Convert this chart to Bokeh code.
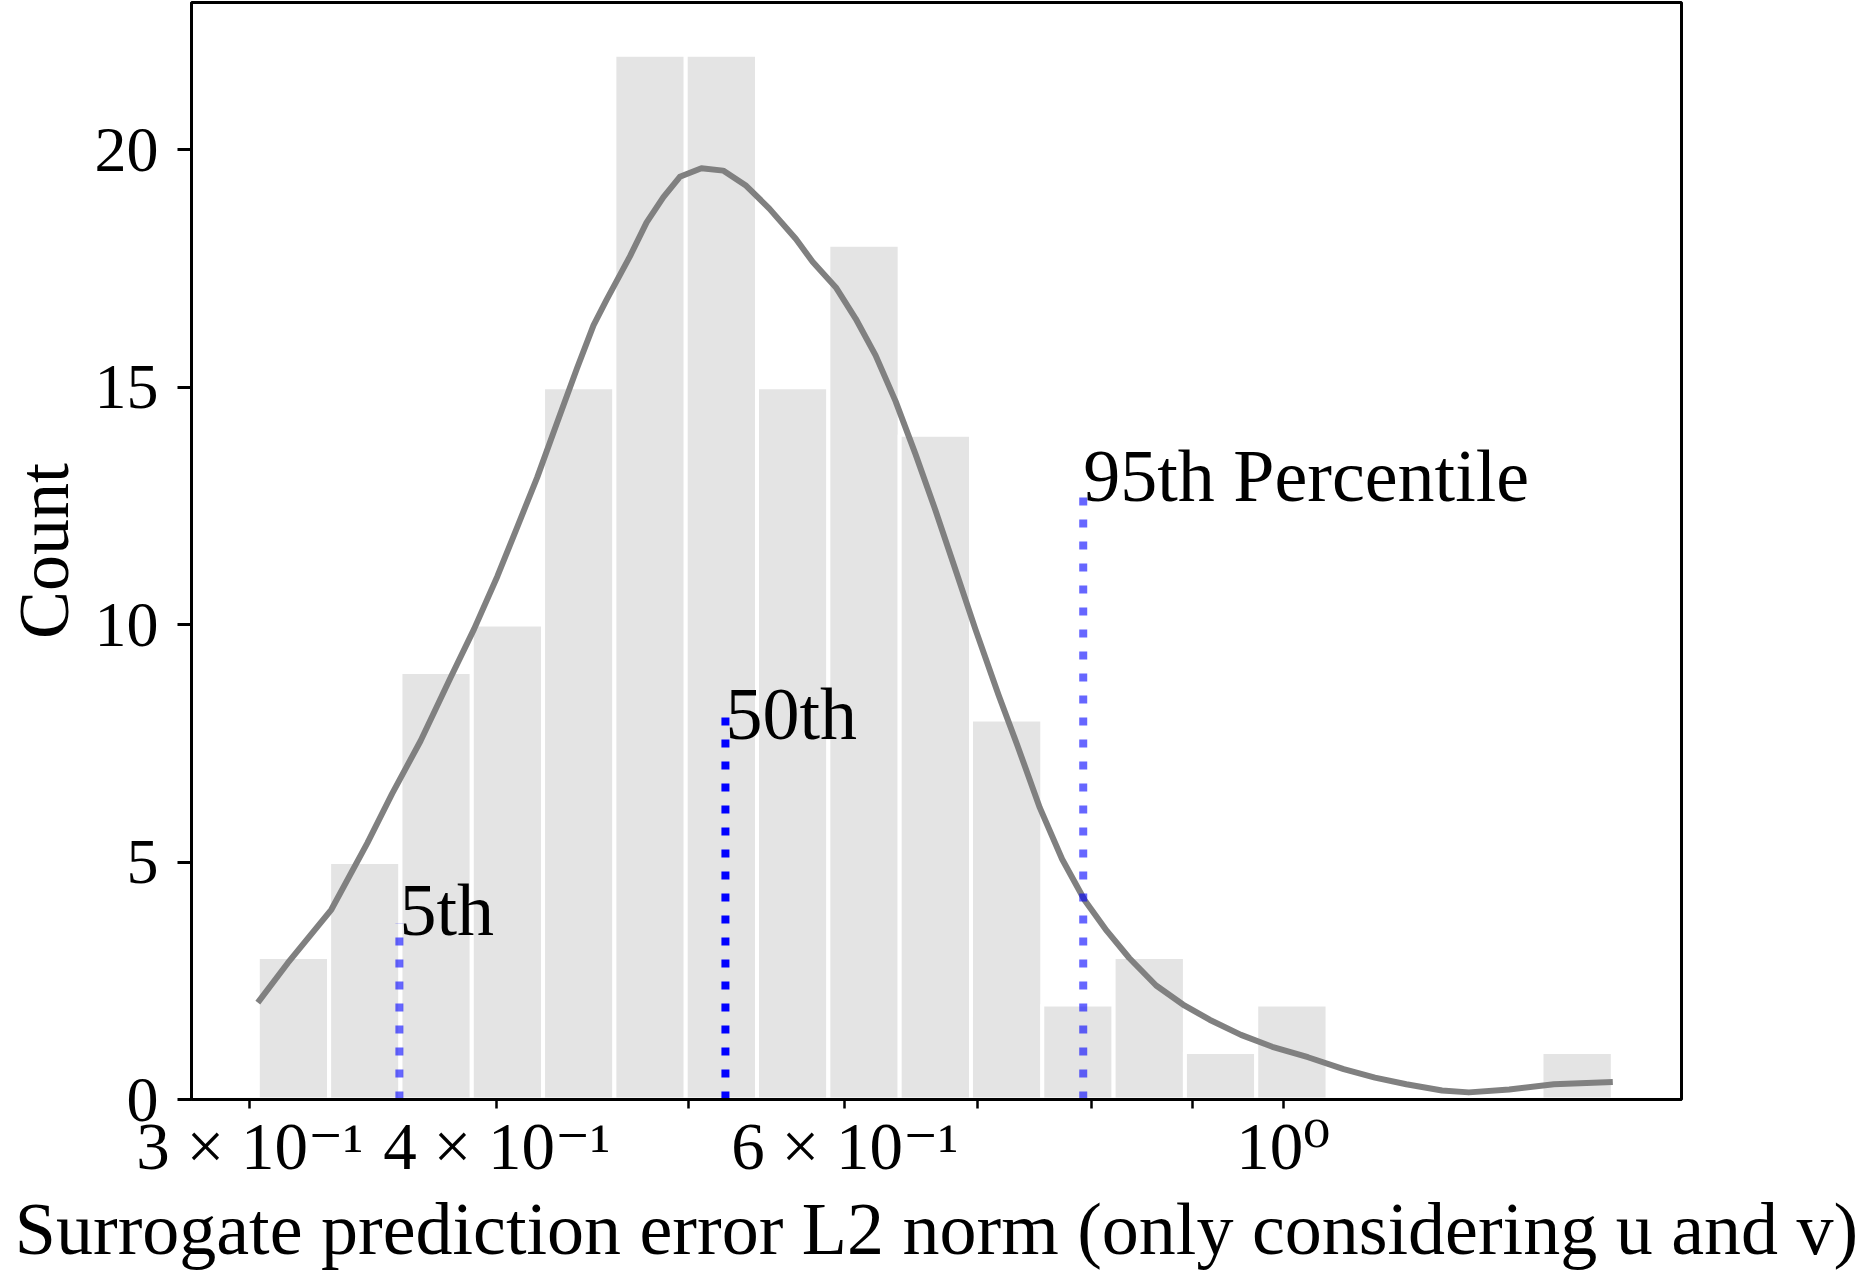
import numpy as np
from bokeh.plotting import figure
from bokeh.models import FixedTicker, Range1d, ColumnDataSource
from bokeh.core.properties import value
from bokeh.embed import file_html
from bokeh.resources import INLINE

# ---- data ----
bin_lo = 0.3028
bin_hi = 1.468
counts = [3, 5, 9, 10, 15, 22, 22, 15, 18, 14, 8, 2, 3, 1, 2, 0, 0, 0, 1]

kde_x = [0.3028, 0.3135, 0.3299, 0.3440, 0.3541, 0.3660, 0.3789, 0.3896, 0.4003,
         0.4097, 0.4193, 0.4291, 0.4392, 0.4477, 0.4547, 0.4672, 0.4763,
         0.4857, 0.4951, 0.5077, 0.5207, 0.5349, 0.5495, 0.5668, 0.5779, 0.5938,
         0.6077, 0.6219, 0.6366, 0.6515, 0.6668, 0.6825, 0.6985, 0.7177, 0.7337,
         0.7531, 0.7729, 0.7933, 0.8142, 0.8357, 0.8623, 0.8897, 0.9177, 0.9519,
         0.9873, 1.0292, 1.0729, 1.1127, 1.1541, 1.2032, 1.2413, 1.3011, 1.3705,
         1.4680]
kde_y = [2.04, 2.87, 4.00, 5.40, 6.44, 7.55, 8.87, 9.91, 11.02,
         12.06, 13.10, 14.25, 15.40, 16.30, 16.85, 17.76, 18.47,
         19.00, 19.43, 19.61, 19.56, 19.24, 18.76, 18.12, 17.64, 17.10,
         16.44, 15.67, 14.70, 13.59, 12.41, 11.16, 9.91, 8.52, 7.45,
         6.14, 5.06, 4.20, 3.55, 2.98, 2.40, 2.00, 1.68, 1.36,
         1.11, 0.89, 0.64, 0.46, 0.32, 0.19, 0.15, 0.21, 0.32,
         0.37]

pct_x = [0.3571, 0.5221, 0.7921]
pct_top = [3.71, 8.31, 12.93]
pct_alpha = [0.6, 1.0, 0.6]
pct_label = ["5th", "50th", "95th Percentile"]
pct_label_y = [4.0, 8.12, 13.12]

x_ticks = [0.3, 0.4, 0.6, 1.0]
x_tick_labels = ["3 × 10⁻¹", "4 × 10⁻¹", "6 × 10⁻¹", "10⁰"]
x_minor = [0.5, 0.7, 0.8, 0.9]
y_ticks = [0, 5, 10, 15, 20]

x_title = "Surrogate prediction error L2 norm (only considering u and v)"
y_title = "Count"

FONT = "Liberation Serif"
FONT_FB = "'Liberation Serif', 'DejaVu Serif', serif"

# ---- figure ----
p = figure(width=1858, height=1272, x_axis_type="log",
           x_range=Range1d(0.28029, 1.5903), y_range=Range1d(0, 23.1),
           output_backend="svg", toolbar_location=None,
           min_border_left=188, min_border_right=177,
           min_border_top=2, min_border_bottom=150)
p.grid.visible = False
p.background_fill_color = "white"
p.border_fill_color = "white"
p.outline_line_color = "black"
p.outline_line_width = 3
p.outline_line_alpha = 1.0

# histogram bars (log-spaced bins)
edges = np.logspace(np.log10(bin_lo), np.log10(bin_hi), len(counts) + 1)
left = [e for e, c in zip(edges[:-1], counts) if c > 0]
right = [e for e, c in zip(edges[1:], counts) if c > 0]
tops = [c for c in counts if c > 0]
p.quad(left=left, right=right, bottom=0, top=tops,
       fill_color="#e4e4e4", line_color="white", line_width=4)

# KDE curve
p.line(kde_x, kde_y, line_color="#808080", line_width=6, line_join="round")

# percentile lines
src = ColumnDataSource(dict(x=pct_x, y0=[0] * len(pct_x), y1=pct_top,
                            a=pct_alpha, ly=pct_label_y, t=pct_label))
p.segment(x0="x", y0="y0", x1="x", y1="y1", source=src,
          line_color="blue", line_alpha="a", line_width=8, line_dash="8 14")
p.text(x="x", y="ly", text="t", source=src, text_font=value(FONT),
       text_font_size="74px", text_align="left", text_baseline="alphabetic",
       text_color="black")

# x axis
xa = p.xaxis[0]
xa.ticker = FixedTicker(ticks=x_ticks, minor_ticks=x_minor)
xa.major_label_overrides = {t: s for t, s in zip(x_ticks, x_tick_labels)}
xa.axis_label = x_title
xa.axis_label_text_font = FONT
xa.axis_label_text_font_style = "normal"
xa.axis_label_text_font_size = "74px"
xa.axis_label_text_color = "black"
xa.axis_label_standoff = 2
xa.major_label_text_font = FONT_FB
xa.major_label_text_font_size = "67px"
xa.major_label_text_color = "black"
xa.major_label_standoff = 0
xa.major_tick_out = 9
xa.major_tick_in = 0
xa.minor_tick_out = 9
xa.minor_tick_in = 0
xa.major_tick_line_width = 2.5
xa.minor_tick_line_width = 2.5
xa.major_tick_line_color = "black"
xa.minor_tick_line_color = "black"
xa.axis_line_width = 3
xa.axis_line_color = "black"

# y axis
ya = p.yaxis[0]
ya.ticker = FixedTicker(ticks=y_ticks)
ya.axis_label = y_title
ya.axis_label_text_font = FONT
ya.axis_label_text_font_style = "normal"
ya.axis_label_text_font_size = "72px"
ya.axis_label_text_color = "black"
ya.axis_label_standoff = 8
ya.major_label_text_font = FONT
ya.major_label_text_font_size = "64px"
ya.major_label_text_color = "black"
ya.major_label_standoff = 19
ya.major_tick_out = 14
ya.major_tick_in = 0
ya.major_tick_line_width = 3
ya.major_tick_line_color = "black"
ya.minor_tick_line_color = None
ya.axis_line_width = 3
ya.axis_line_color = "black"

open("out.html", "w").write(file_html(p, INLINE))
